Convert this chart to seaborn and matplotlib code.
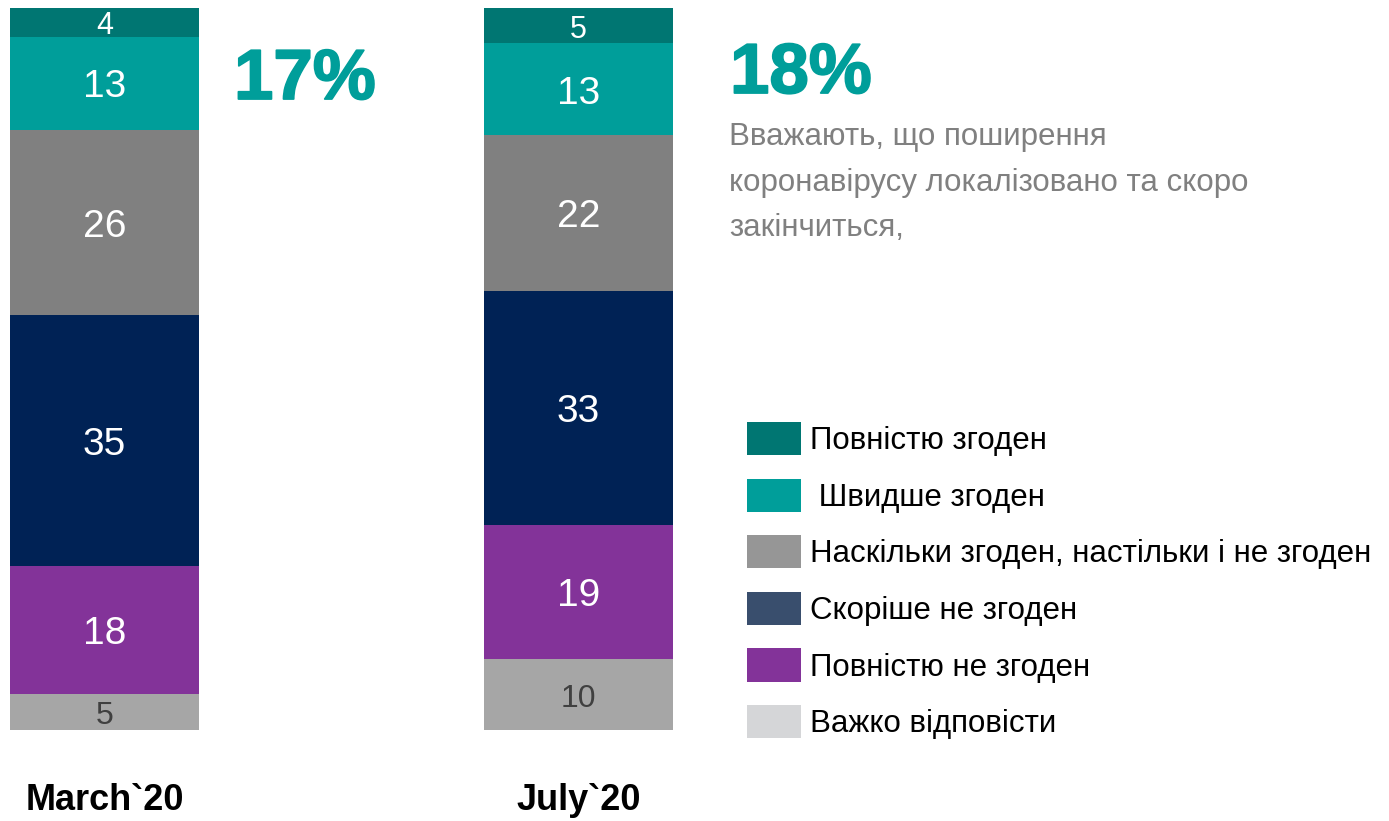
import matplotlib
matplotlib.use("Agg")
import matplotlib.pyplot as plt
import matplotlib.patheffects as pe
from matplotlib.patches import Patch
import numpy as np
import pandas as pd
import seaborn as sns

# ---- data ----
periods = ["March`20", "July`20"]
categories = [
    "Важко відповісти",
    "Повністю не згоден",
    "Скоріше не згоден",
    "Наскільки згоден, настільки і не згоден",
    " Швидше згоден",
    "Повністю згоден",
]
values = {
    "Важко відповісти": [5, 10],
    "Повністю не згоден": [18, 19],
    "Скоріше не згоден": [35, 33],
    "Наскільки згоден, настільки і не згоден": [26, 22],
    " Швидше згоден": [13, 13],
    "Повністю згоден": [4, 5],
}
agree_totals = ["17%", "18%"]
note_text = "Вважають, що поширення\nкоронавірусу локалізовано та скоро\nзакінчиться,"

bar_colors = ["#A6A6A6", "#833399", "#002255", "#808080", "#009E9A", "#007672"]
legend_colors = ["#D5D6D8", "#833399", "#394E6D", "#969696", "#009E9A", "#007672"]
label_colors = ["#404040", "white", "white", "white", "white", "white"]
label_sizes = [23, 28, 28, 28, 28, 22]

# ---- figure ----
sns.set_theme(style="white")
plt.rcParams["font.family"] = ["Liberation Sans", "DejaVu Sans"]

W, H = 1389, 821
fig = plt.figure(figsize=(W / 100, H / 100), dpi=100)
fig.patch.set_facecolor("white")


def fx(px):
    return px / W


def fy(py):
    return 1 - py / H


ax = fig.add_axes([0, fy(730), 1, (730 - 8) / H])

totals = np.sum([values[c] for c in categories], axis=0)
bottom = np.zeros(len(periods))
unit = 474.0
for i, cat in enumerate(categories):
    raw = np.array(values[cat], dtype=float)
    h = raw / totals * 100
    df = pd.DataFrame({"period": periods, "value": h})
    sns.barplot(data=df, x="period", y="value", order=periods, bottom=bottom,
                color=bar_colors[i], saturation=1, width=189 / unit,
                linewidth=0, ax=ax, errorbar=None)
    cont = ax.containers[-1]
    ax.bar_label(cont, labels=[str(v) for v in values[cat]], label_type="center",
                 color=label_colors[i], fontsize=label_sizes[i], padding=-3)
    bottom = bottom + h

ax.set_ylim(0, 100)
x0 = -104.5 / unit
ax.set_xlim(x0, x0 + W / unit)
for s in ax.spines.values():
    s.set_visible(False)
ax.set_yticks([])
ax.set_xlabel("")
ax.set_ylabel("")
ax.tick_params(axis="x", length=0, pad=38)
for lbl in ax.get_xticklabels():
    lbl.set_fontsize(26)
    lbl.set_fontweight("bold")
    lbl.set_color("black")

# big percentages
heavy = [pe.withStroke(linewidth=1.3, foreground="#009E9A")]
fig.text(fx(234), fy(99), agree_totals[0], color="#009E9A", fontsize=51,
         fontweight="bold", ha="left", va="baseline", path_effects=heavy)
fig.text(fx(730), fy(93), agree_totals[1], color="#009E9A", fontsize=51,
         fontweight="bold", ha="left", va="baseline", path_effects=heavy)
fig.text(fx(729), fy(122), note_text, color="#808080", fontsize=22.5,
         ha="left", va="top", linespacing=1.68)

# legend
handles = [Patch(facecolor=legend_colors[i], edgecolor="none", label=categories[i])
           for i in range(len(categories) - 1, -1, -1)]
fig.legend(handles=handles, loc="upper left", bbox_to_anchor=(fx(738), fy(413)),
           frameon=False, fontsize=22.5, handlelength=1.7, handleheight=1.25,
           handletextpad=0.3, labelspacing=0.72, borderaxespad=0, borderpad=0.3,
           labelcolor="black")

fig.savefig("out.png", dpi=100, facecolor="white")
